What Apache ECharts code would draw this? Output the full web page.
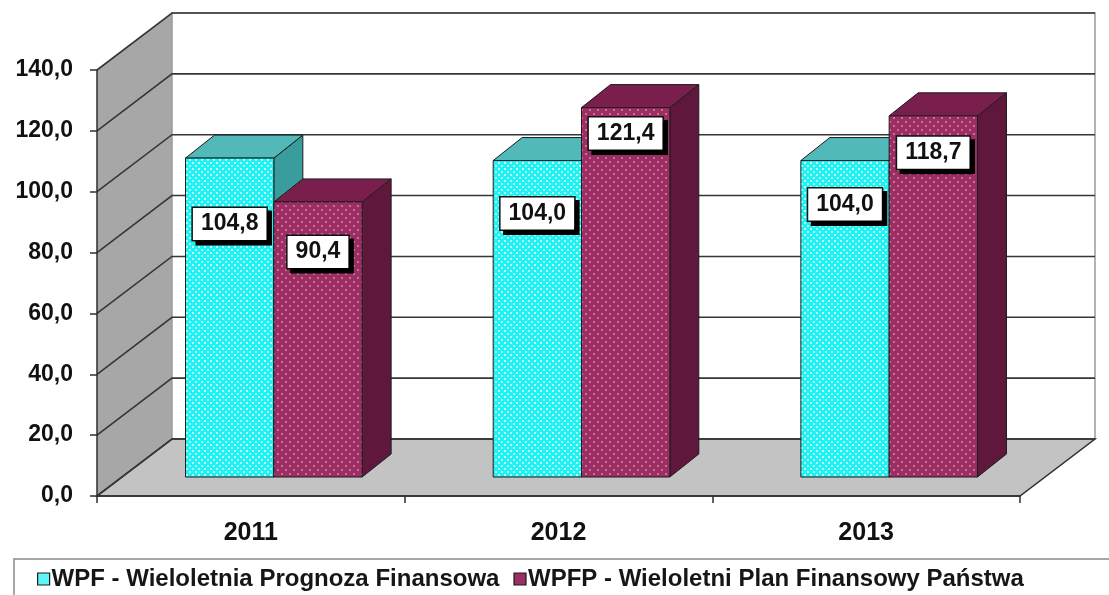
<!DOCTYPE html>
<html>
<head>
<meta charset="utf-8">
<script src="https://cdn.jsdelivr.net/npm/echarts@6/dist/echarts.min.js"></script>
<style>
  html, body { margin: 0; padding: 0; background: #fff; }
  #chart { width: 1109px; height: 595px; }
</style>
</head>
<body>
<div id="chart"></div>
<script>
// values
const years = ["2011", "2012", "2013"];
const wpf = [104.8, 104.0, 104.0];
const wpfp = [90.4, 121.4, 118.7];
const yTicks = [0, 20, 40, 60, 80, 100, 120, 140];
const seriesNames = [
  "WPF - Wieloletnia Prognoza Finansowa",
  "WPFP - Wieloletni Plan Finansowy Państwa",
];

// 3d look (pixels)
const WALL_DEPTH = [75, -57];
const BAR_SHIFT = [23, -19];
const BAR_DEPTH = [29, -23];
const BAR_FRAC = 0.287;
// how far under the top of each bar its label sits (pixels)
const labelDrop = [
  [66, 53, 44],
  [50, 26, 37],
];

const FONT = '"Liberation Sans", Arial, sans-serif';

function makePattern(size, base, dot, spots) {
  const c = document.createElement("canvas");
  c.width = size;
  c.height = size;
  const ctx = c.getContext("2d");
  ctx.fillStyle = base;
  ctx.fillRect(0, 0, size, size);
  ctx.fillStyle = dot;
  spots.forEach(([x, y]) => ctx.fillRect(x, y, 2, 2));
  return { image: c, repeat: "repeat" };
}

const looks = [
  {
    front: makePattern(6, "#1ef2f2", "#b4ffff", [[0, 0], [3, 3]]),
    top: "#52b9b9",
    side: "#3a9d9d",
    legend: "#5ff5f5",
  },
  {
    front: makePattern(8, "#9b2e63", "#cf6c9a", [[1, 1], [5, 5]]),
    top: "#7a1f4d",
    side: "#5f183c",
    legend: "#9b2e63",
  },
];

const fmt = (v) => v.toFixed(1).replace(".", ",");

function renderFrame(params, api) {
  const cs = params.coordSys;
  const x0 = cs.x;
  const x1 = cs.x + cs.width;
  const [dx, dy] = WALL_DEPTH;
  const y0 = api.coord([0, 0])[1];
  const yTop = api.coord([0, yTicks[yTicks.length - 1]])[1];
  const children = [
    {
      type: "polygon",
      shape: { points: [[x0, y0], [x0, yTop], [x0 + dx, yTop + dy], [x0 + dx, y0 + dy]] },
      style: { fill: "#a7a7a7" },
    },
    {
      type: "rect",
      shape: { x: x0 + dx, y: yTop + dy, width: x1 - x0, height: y0 - yTop },
      style: { fill: "#fff", stroke: "#9a9a9a", lineWidth: 1.5 },
    },
    {
      type: "polygon",
      shape: { points: [[x0, y0], [x1, y0], [x1 + dx, y0 + dy], [x0 + dx, y0 + dy]] },
      style: { fill: "#c3c3c3", stroke: "#2e2e2e", lineWidth: 1.5 },
    },
  ];
  yTicks.forEach((v) => {
    const y = api.coord([0, v])[1];
    children.push({
      type: "polyline",
      shape: { points: [[x0, y], [x0 + dx, y + dy], [x1 + dx, y + dy]] },
      style: { stroke: "#363636", lineWidth: 1.6, fill: null },
    });
  });
  return { type: "group", children };
}

function makeBarRenderer(s) {
  return function (params, api) {
    const idx = api.value(0);
    const val = api.value(1);
    const base = api.coord([idx, 0]);
    const bandW = api.size([1, 0])[0];
    const w = bandW * BAR_FRAC;
    const xl = base[0] + BAR_SHIFT[0] + (s === 0 ? -w : 0);
    const xr = xl + w;
    const yb = base[1] + BAR_SHIFT[1];
    const yt = api.coord([idx, val])[1] + BAR_SHIFT[1];
    const [bx, by] = BAR_DEPTH;
    const look = looks[s];
    const edge = { stroke: "#1c1c1c", lineWidth: 1 };
    return {
      type: "group",
      children: [
        {
          type: "polygon",
          shape: { points: [[xr, yb], [xr, yt], [xr + bx, yt + by], [xr + bx, yb + by]] },
          style: Object.assign({ fill: look.side }, edge),
        },
        {
          type: "polygon",
          shape: { points: [[xl, yt], [xr, yt], [xr + bx, yt + by], [xl + bx, yt + by]] },
          style: Object.assign({ fill: look.top }, edge),
        },
        {
          type: "rect",
          shape: { x: xl, y: yt, width: w, height: yb - yt },
          style: Object.assign({ fill: look.front }, edge),
        },
        {
          type: "text",
          x: (xl + xr) / 2,
          y: yt + labelDrop[s][idx],
          z2: 10,
          style: {
            text: fmt(val),
            font: "bold 23px " + FONT,
            fill: "#111",
            align: "center",
            verticalAlign: "middle",
            backgroundColor: "#fff",
            borderColor: "#111",
            borderWidth: 1.5,
            padding: [5, 8, 4, 8],
            shadowColor: "#000",
            shadowOffsetX: 4,
            shadowOffsetY: 4,
            shadowBlur: 0,
          },
        },
      ],
    };
  };
}

const chart = echarts.init(document.getElementById("chart"));

chart.setOption({
  backgroundColor: "#fff",
  animation: false,
  grid: { left: 97, right: 89, top: 70, bottom: 99 },
  xAxis: {
    type: "category",
    data: years,
    z: 1,
    axisLine: { lineStyle: { color: "#2e2e2e", width: 1.5 } },
    axisTick: { show: true, length: 7, lineStyle: { color: "#2e2e2e", width: 1.5 } },
    axisLabel: {
      margin: 25,
      fontSize: 25,
      fontWeight: "bold",
      fontFamily: '"Liberation Sans Narrow", "Liberation Sans", sans-serif',
      color: "#111",
    },
  },
  yAxis: {
    type: "value",
    min: 0,
    max: 140,
    interval: 20,
    z: 1,
    splitLine: { show: false },
    axisLine: { show: true, lineStyle: { color: "#2e2e2e", width: 1.5 } },
    axisTick: { show: true, length: 7, lineStyle: { color: "#2e2e2e", width: 1.5 } },
    axisLabel: {
      margin: 24,
      fontSize: 23,
      fontWeight: "bold",
      fontFamily: FONT,
      color: "#111",
      formatter: (v) => fmt(v),
    },
  },
  legend: {
    data: seriesNames.map((name) => ({ name, icon: "rect" })),
    left: 14,
    top: 559,
    width: 1400,
    itemWidth: 12,
    itemHeight: 12,
    itemGap: 14,
    padding: [8, 200, 30, 23],
    borderColor: "#8a8a8a",
    borderWidth: 1.5,
    backgroundColor: "#fff",
    itemStyle: { borderColor: "#1c1c1c", borderWidth: 1.2 },
    textStyle: {
      fontSize: 24,
      fontWeight: "bold",
      fontFamily: FONT,
      color: "#161616",
      padding: [0, 0, 0, -3],
    },
  },
  series: [
    {
      type: "custom",
      name: "frame",
      silent: true,
      z: 0,
      renderItem: renderFrame,
      data: [[0, 0]],
      encode: { x: 0, y: 1 },
    },
    {
      type: "custom",
      name: seriesNames[0],
      z: 2,
      itemStyle: { color: looks[0].legend },
      renderItem: makeBarRenderer(0),
      data: wpf.map((v, i) => [i, v]),
      encode: { x: 0, y: 1 },
    },
    {
      type: "custom",
      name: seriesNames[1],
      z: 2,
      itemStyle: { color: looks[1].legend },
      renderItem: makeBarRenderer(1),
      data: wpfp.map((v, i) => [i, v]),
      encode: { x: 0, y: 1 },
    },
  ],
});
</script>
</body>
</html>
